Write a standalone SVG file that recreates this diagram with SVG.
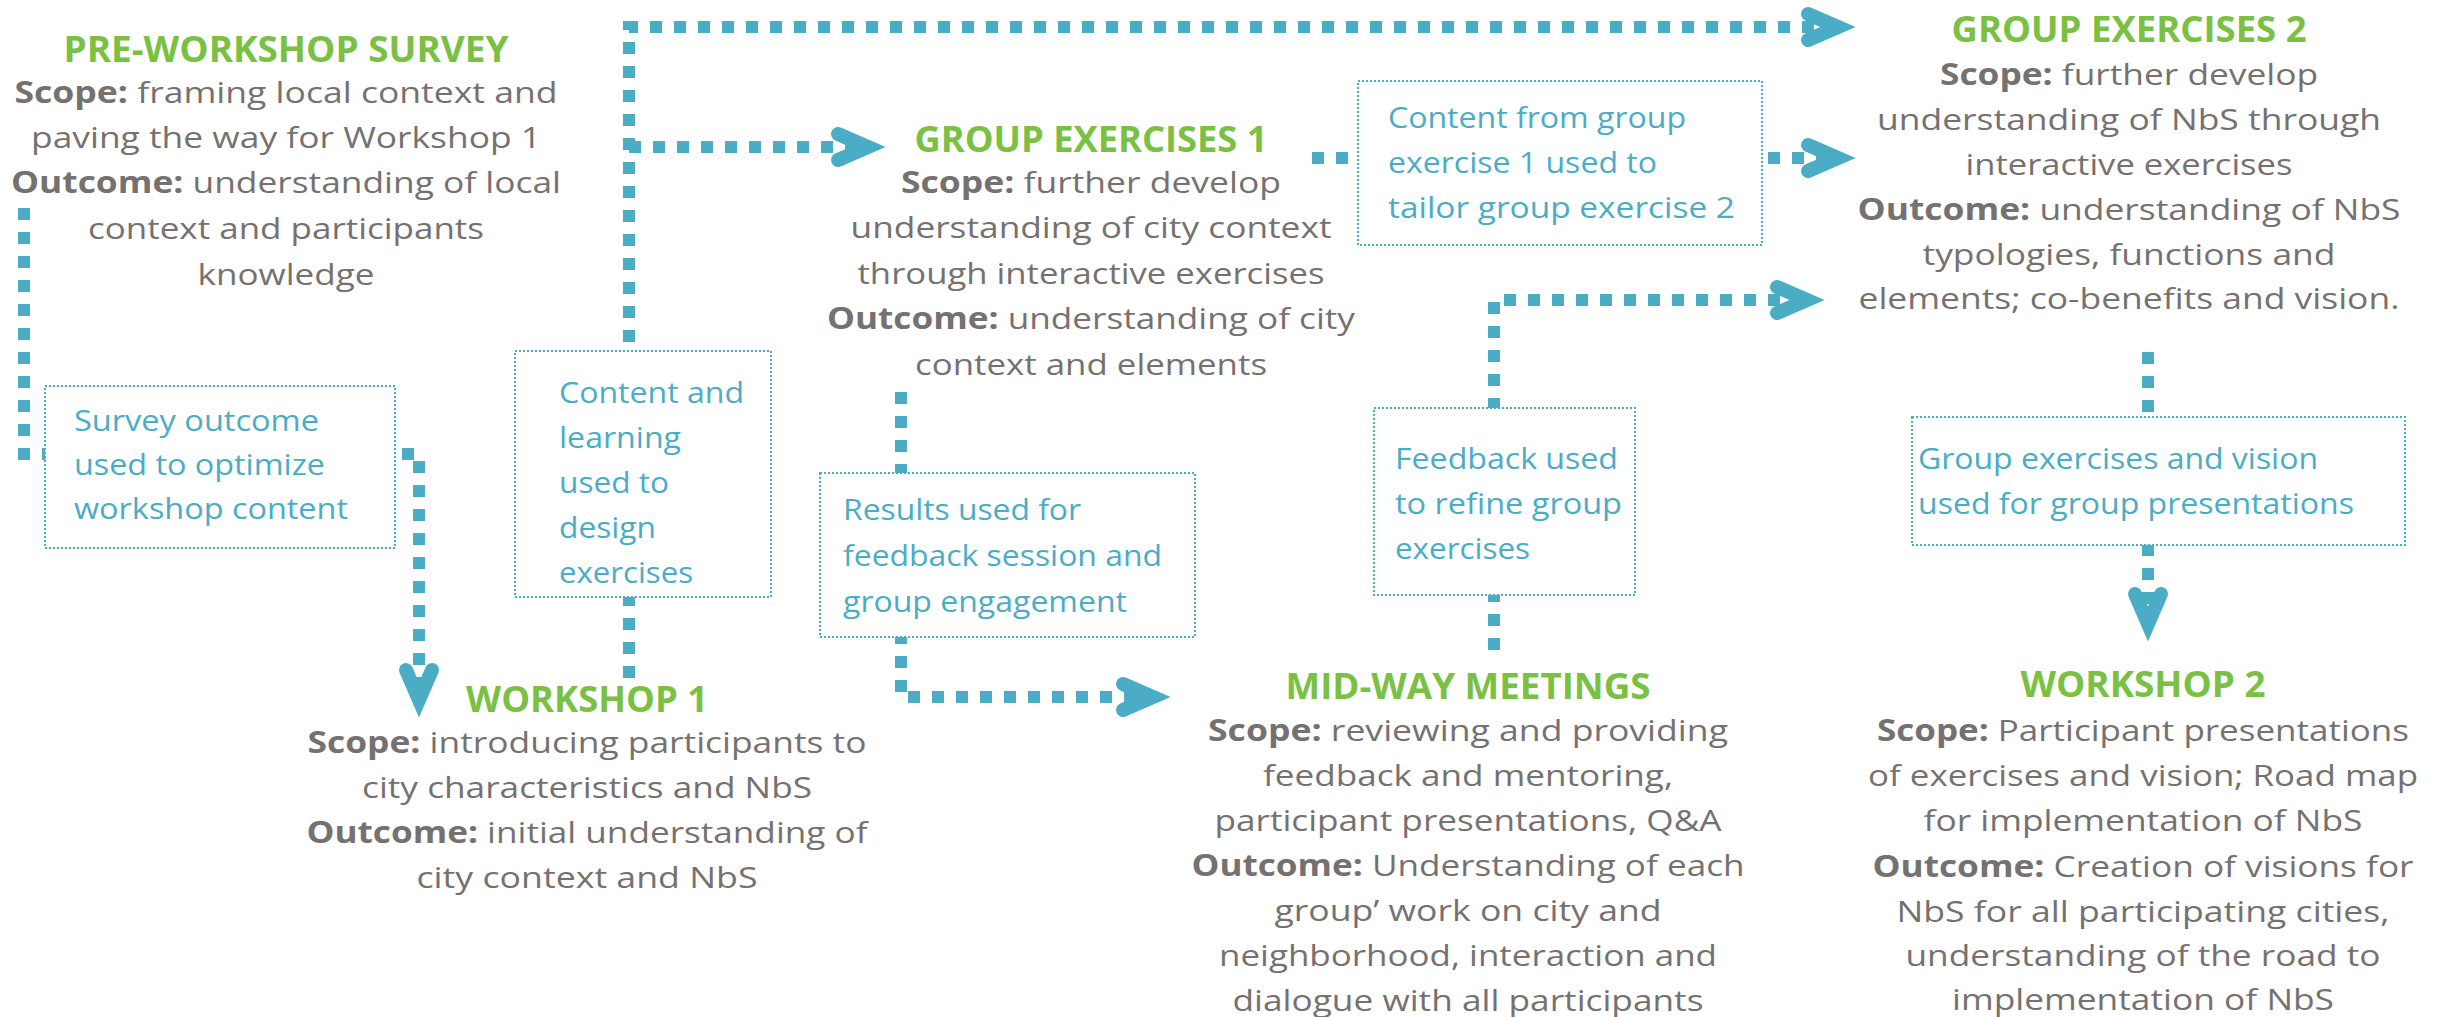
<svg xmlns="http://www.w3.org/2000/svg" xmlns:xlink="http://www.w3.org/1999/xlink" width="2446" height="1017" viewBox="0 0 2446 1017">
  <style>
    text { font-family: 'Open Sans', 'Noto Sans', sans-serif; }
    .t { font-size: 30px; fill: #767171; text-anchor: middle; }
    .h { font-size: 35px; font-weight: 700; fill: #7AC143; text-anchor: middle; }
    .b { font-weight: 700; }
    .c { font-size: 30px; fill: #4BACC6; text-anchor: start; }
    .box { fill: #ffffff; stroke: #4BACC6; stroke-width: 2; stroke-dasharray: 2 2; }
    .ln { fill: none; stroke: #4BACC6; stroke-width: 12; stroke-dasharray: 12 12; }
  </style>
  <defs>
    <!-- open chevron arrowhead, pointing +x, tip at the origin -->
    <path id="arrowhead" d="M-48,-13 L-18,0 L-48,13" fill="none" stroke="#4BACC6" stroke-width="14" stroke-linecap="round" stroke-linejoin="miter" stroke-miterlimit="10"/>
  </defs>
  <rect width="2446" height="1017" fill="#ffffff"/>

  <!-- connectors -->
  <g id="connectors">
    <path class="ln" d="M24,208 V454 H419 V690"/>
    <use xlink:href="#arrowhead" transform="translate(419,718) rotate(90)"/>
    <path class="ln" d="M629,678 V27 H1830"/>
    <use xlink:href="#arrowhead" transform="translate(1856,27)"/>
    <path class="ln" d="M629,147 H860"/>
    <use xlink:href="#arrowhead" transform="translate(886,147)"/>
    <path class="ln" d="M1312,158 H1830"/>
    <use xlink:href="#arrowhead" transform="translate(1856,158)"/>
    <path class="ln" d="M901,392 V697 H1145"/>
    <use xlink:href="#arrowhead" transform="translate(1171,697)"/>
    <path class="ln" d="M1494,650 V300 H1800"/>
    <use xlink:href="#arrowhead" transform="translate(1825,300)"/>
    <path class="ln" d="M2148,352 V615"/>
    <use xlink:href="#arrowhead" transform="translate(2148,642) rotate(90)"/>
  </g>

  <!-- connector labels -->
  <g id="label-survey-outcome">
    <rect class="box" x="45" y="386" width="350" height="162"/>
    <text class="c" x="74" y="431" textLength="245" lengthAdjust="spacingAndGlyphs">Survey outcome</text>
    <text class="c" x="74" y="475" textLength="251" lengthAdjust="spacingAndGlyphs">used to optimize</text>
    <text class="c" x="74" y="519" textLength="274" lengthAdjust="spacingAndGlyphs">workshop content</text>
  </g>
  <g id="label-content-learning">
    <rect class="box" x="515" y="351" width="256" height="246"/>
    <text class="c" x="559" y="403" textLength="185" lengthAdjust="spacingAndGlyphs">Content and</text>
    <text class="c" x="559" y="448" textLength="122" lengthAdjust="spacingAndGlyphs">learning</text>
    <text class="c" x="559" y="493" textLength="110" lengthAdjust="spacingAndGlyphs">used to</text>
    <text class="c" x="559" y="538" textLength="97" lengthAdjust="spacingAndGlyphs">design</text>
    <text class="c" x="559" y="583" textLength="134" lengthAdjust="spacingAndGlyphs">exercises</text>
  </g>
  <g id="label-content-group">
    <rect class="box" x="1358" y="81" width="404" height="164"/>
    <text class="c" x="1388" y="128" textLength="298" lengthAdjust="spacingAndGlyphs">Content from group</text>
    <text class="c" x="1388" y="173" textLength="269" lengthAdjust="spacingAndGlyphs">exercise 1 used to</text>
    <text class="c" x="1388" y="218" textLength="347" lengthAdjust="spacingAndGlyphs">tailor group exercise 2</text>
  </g>
  <g id="label-results">
    <rect class="box" x="820" y="473" width="375" height="164"/>
    <text class="c" x="843" y="520" textLength="238" lengthAdjust="spacingAndGlyphs">Results used for</text>
    <text class="c" x="843" y="566" textLength="319" lengthAdjust="spacingAndGlyphs">feedback session and</text>
    <text class="c" x="843" y="612" textLength="284" lengthAdjust="spacingAndGlyphs">group engagement</text>
  </g>
  <g id="label-feedback">
    <rect class="box" x="1374" y="408" width="261" height="187"/>
    <text class="c" x="1395" y="469" textLength="223" lengthAdjust="spacingAndGlyphs">Feedback used</text>
    <text class="c" x="1395" y="514" textLength="227" lengthAdjust="spacingAndGlyphs">to refine group</text>
    <text class="c" x="1395" y="559" textLength="135" lengthAdjust="spacingAndGlyphs">exercises</text>
  </g>
  <g id="label-group-vision">
    <rect class="box" x="1912" y="417" width="493" height="128"/>
    <text class="c" x="1918" y="469" textLength="400" lengthAdjust="spacingAndGlyphs">Group exercises and vision</text>
    <text class="c" x="1918" y="514" textLength="436" lengthAdjust="spacingAndGlyphs">used for group presentations</text>
  </g>

  <!-- stages -->
  <g id="pre-workshop-survey">
    <text class="h" x="286" y="62" textLength="445" lengthAdjust="spacingAndGlyphs">PRE-WORKSHOP SURVEY</text>
    <text class="t" x="286" y="103" textLength="543" lengthAdjust="spacingAndGlyphs"><tspan class="b">Scope:</tspan> framing local context and</text>
    <text class="t" x="286" y="148" textLength="510" lengthAdjust="spacingAndGlyphs">paving the way for Workshop 1</text>
    <text class="t" x="286" y="193" textLength="550" lengthAdjust="spacingAndGlyphs"><tspan class="b">Outcome:</tspan> understanding of local</text>
    <text class="t" x="286" y="239" textLength="396" lengthAdjust="spacingAndGlyphs">context and participants</text>
    <text class="t" x="286" y="285" textLength="177" lengthAdjust="spacingAndGlyphs">knowledge</text>
  </g>
  <g id="group-exercises-1">
    <text class="h" x="1091" y="152" textLength="353" lengthAdjust="spacingAndGlyphs">GROUP EXERCISES 1</text>
    <text class="t" x="1091" y="193" textLength="380" lengthAdjust="spacingAndGlyphs"><tspan class="b">Scope:</tspan> further develop</text>
    <text class="t" x="1091" y="238" textLength="481" lengthAdjust="spacingAndGlyphs">understanding of city context</text>
    <text class="t" x="1091" y="284" textLength="467" lengthAdjust="spacingAndGlyphs">through interactive exercises</text>
    <text class="t" x="1091" y="329" textLength="528" lengthAdjust="spacingAndGlyphs"><tspan class="b">Outcome:</tspan> understanding of city</text>
    <text class="t" x="1091" y="375" textLength="352" lengthAdjust="spacingAndGlyphs">context and elements</text>
  </g>
  <g id="group-exercises-2">
    <text class="h" x="2129" y="42" textLength="355" lengthAdjust="spacingAndGlyphs">GROUP EXERCISES 2</text>
    <text class="t" x="2129" y="85" textLength="378" lengthAdjust="spacingAndGlyphs"><tspan class="b">Scope:</tspan> further develop</text>
    <text class="t" x="2129" y="130" textLength="504" lengthAdjust="spacingAndGlyphs">understanding of NbS through</text>
    <text class="t" x="2129" y="175" textLength="327" lengthAdjust="spacingAndGlyphs">interactive exercises</text>
    <text class="t" x="2129" y="220" textLength="543" lengthAdjust="spacingAndGlyphs"><tspan class="b">Outcome:</tspan> understanding of NbS</text>
    <text class="t" x="2129" y="265" textLength="413" lengthAdjust="spacingAndGlyphs">typologies, functions and</text>
    <text class="t" x="2129" y="309" textLength="541" lengthAdjust="spacingAndGlyphs">elements; co-benefits and vision.</text>
  </g>
  <g id="workshop-1">
    <text class="h" x="587" y="712" textLength="242" lengthAdjust="spacingAndGlyphs">WORKSHOP 1</text>
    <text class="t" x="587" y="753" textLength="559" lengthAdjust="spacingAndGlyphs"><tspan class="b">Scope:</tspan> introducing participants to</text>
    <text class="t" x="587" y="798" textLength="450" lengthAdjust="spacingAndGlyphs">city characteristics and NbS</text>
    <text class="t" x="587" y="843" textLength="561" lengthAdjust="spacingAndGlyphs"><tspan class="b">Outcome:</tspan> initial understanding of</text>
    <text class="t" x="587" y="888" textLength="341" lengthAdjust="spacingAndGlyphs">city context and NbS</text>
  </g>
  <g id="mid-way-meetings">
    <text class="h" x="1468" y="699" textLength="365" lengthAdjust="spacingAndGlyphs">MID-WAY MEETINGS</text>
    <text class="t" x="1468" y="741" textLength="520" lengthAdjust="spacingAndGlyphs"><tspan class="b">Scope:</tspan> reviewing and providing</text>
    <text class="t" x="1468" y="786" textLength="410" lengthAdjust="spacingAndGlyphs">feedback and mentoring,</text>
    <text class="t" x="1468" y="831" textLength="507" lengthAdjust="spacingAndGlyphs">participant presentations, Q&amp;A</text>
    <text class="t" x="1468" y="876" textLength="553" lengthAdjust="spacingAndGlyphs"><tspan class="b">Outcome:</tspan> Understanding of each</text>
    <text class="t" x="1468" y="921" textLength="387" lengthAdjust="spacingAndGlyphs">group’ work on city and</text>
    <text class="t" x="1468" y="966" textLength="498" lengthAdjust="spacingAndGlyphs">neighborhood, interaction and</text>
    <text class="t" x="1468" y="1011" textLength="471" lengthAdjust="spacingAndGlyphs">dialogue with all participants</text>
  </g>
  <g id="workshop-2">
    <text class="h" x="2143" y="697" textLength="245" lengthAdjust="spacingAndGlyphs">WORKSHOP 2</text>
    <text class="t" x="2143" y="741" textLength="532" lengthAdjust="spacingAndGlyphs"><tspan class="b">Scope:</tspan> Participant presentations</text>
    <text class="t" x="2143" y="786" textLength="550" lengthAdjust="spacingAndGlyphs">of exercises and vision; Road map</text>
    <text class="t" x="2143" y="831" textLength="439" lengthAdjust="spacingAndGlyphs">for implementation of NbS</text>
    <text class="t" x="2143" y="877" textLength="541" lengthAdjust="spacingAndGlyphs"><tspan class="b">Outcome:</tspan> Creation of visions for</text>
    <text class="t" x="2143" y="922" textLength="493" lengthAdjust="spacingAndGlyphs">NbS for all participating cities,</text>
    <text class="t" x="2143" y="966" textLength="475" lengthAdjust="spacingAndGlyphs">understanding of the road to</text>
    <text class="t" x="2143" y="1010" textLength="382" lengthAdjust="spacingAndGlyphs">implementation of NbS</text>
  </g>
</svg>
